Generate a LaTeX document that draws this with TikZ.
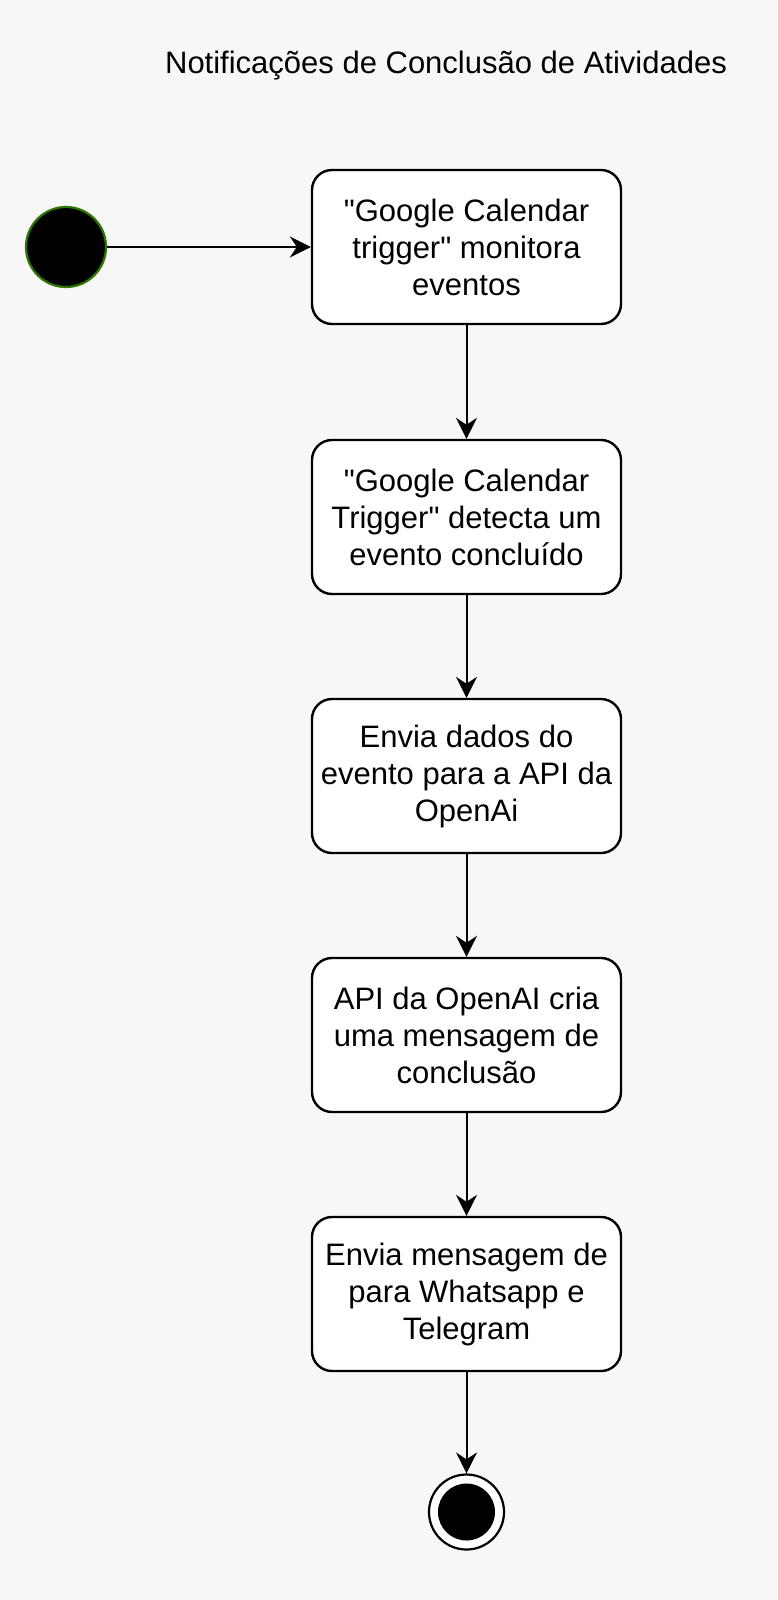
\documentclass[tikz,border=0pt]{standalone}
\usepackage{fontspec}
\setmainfont{Liberation Sans}
\usetikzlibrary{arrows.meta}
\definecolor{bgc}{HTML}{F7F7F7}
\definecolor{startgreen}{HTML}{2D7600}
\font\plainquotefont="Liberation Sans" at 31pt
\newcommand{\dquote}{{\plainquotefont\symbol{34}}}
\tikzset{
  actbox/.style={draw=black, line width=2.4pt, fill=white, rounded corners=20pt,
    minimum width=309pt, minimum height=154pt, align=center, inner sep=0pt,
    font=\fontsize{31}{37}\selectfont},
  flow/.style={draw=black, line width=2pt, -{Stealth[length=21pt,width=21pt,inset=7pt]}},
  titletext/.style={font=\fontsize{31}{37}\selectfont, inner sep=0pt}
}
\begin{document}
\begin{tikzpicture}[x=1pt,y=-1pt]
  \fill[bgc] (0,0) rectangle (778,1600);
  \useasboundingbox (0,0) rectangle (778,1600);
  \node[titletext] (title) at (446,66) {Notificações de Conclusão de Atividades};
  \node[circle, draw=startgreen, line width=2.2pt, fill=black, minimum size=80pt, inner sep=0pt] (start) at (66,247) {};
  \node[actbox] (b1) at (466.5,247) {\dquote Google Calendar\\trigger\dquote{} monitora\\eventos};
  \node[actbox] (b2) at (466.5,517) {\dquote Google Calendar\\Trigger\dquote{} detecta um\\evento concluído};
  \node[actbox] (b3) at (466.5,776) {Envia dados do\\evento para a API da\\OpenAi};
  \node[actbox] (b4) at (466.5,1035) {API da OpenAI cria\\uma mensagem de\\conclusão};
  \node[actbox] (b5) at (466.5,1294) {Envia mensagem de\\para Whatsapp e\\Telegram};
  \node[circle, draw=black, line width=2.2pt, fill=white, minimum size=75pt, inner sep=0pt] (endc) at (466.5,1512) {};
  \node[circle, fill=black, minimum size=57pt, inner sep=0pt] (endin) at (endc) {};
  \draw[flow] (start) -- (b1);
  \draw[flow] (b1) -- (b2);
  \draw[flow] (b2) -- (b3);
  \draw[flow] (b3) -- (b4);
  \draw[flow] (b4) -- (b5);
  \draw[flow] (b5) -- (endc);
\end{tikzpicture}
\end{document}
